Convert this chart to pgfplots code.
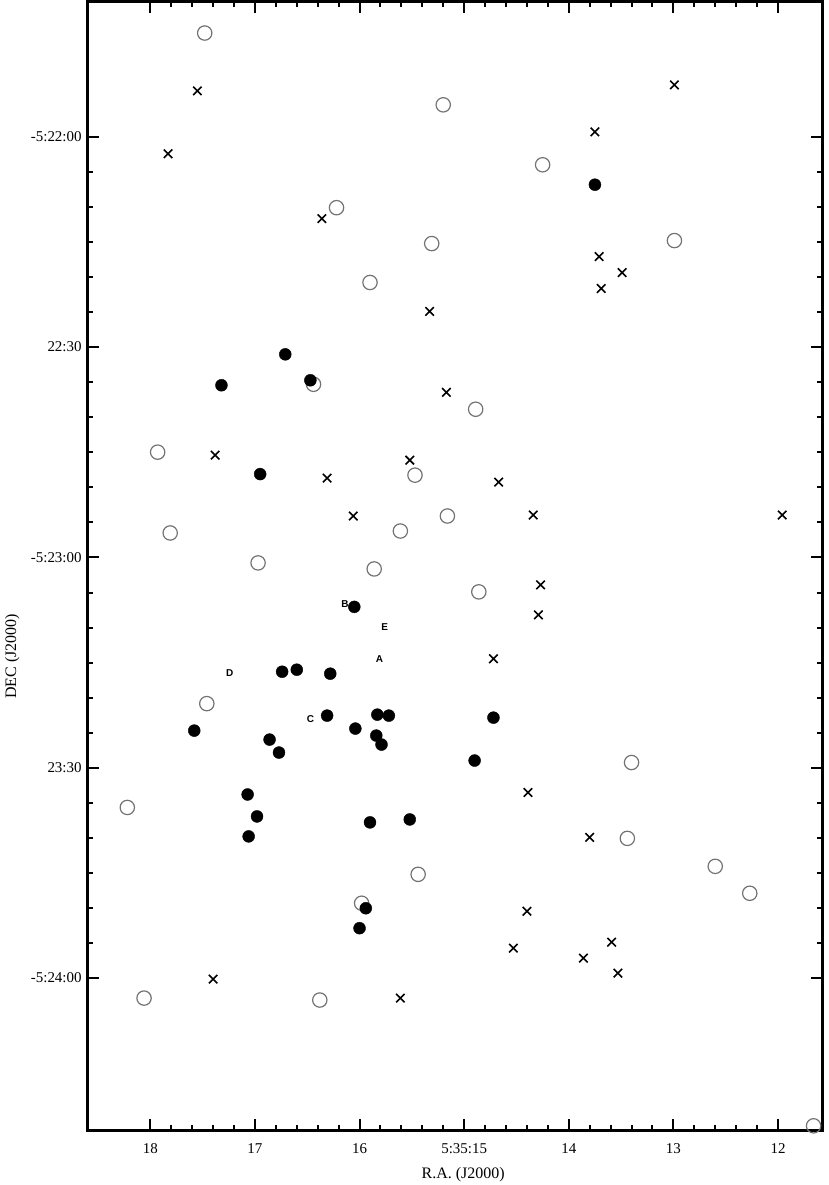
\documentclass[border=0pt]{standalone}
\usepackage{fontspec}
\setmainfont{Liberation Serif}
\setsansfont{Liberation Sans}
\usepackage{pgfplots}
\pgfplotsset{compat=1.18}

% RA seconds (5:35:xx) vs. DEC offset from -5:23:00 in arcsec
\pgfplotstableread{
ra    dec
17.48 74.80
15.20 64.56
14.25 56.01
16.22 49.89
15.31 44.77
12.99 45.20
15.90 39.22
16.44 24.70
14.89 21.14
17.93 15.02
15.47 11.74
15.16 5.91
15.61 3.77
17.81 3.49
16.97 -0.78
15.86 -1.64
14.86 -4.91
17.46 -20.85
13.40 -29.25
18.22 -35.66
13.44 -40.07
12.60 -44.06
15.44 -45.20
12.27 -47.90
15.98 -49.32
18.06 -62.85
16.38 -63.13
11.66 -81.07
}\opencircles

\pgfplotstableread{
ra    dec
17.55 66.55
12.99 67.40
13.75 60.71
17.83 57.58
16.36 48.33
13.71 42.92
13.49 40.64
13.69 38.36
15.33 35.09
15.17 23.56
17.38 14.59
15.52 13.88
16.31 11.32
14.67 10.75
16.06 5.91
14.34 6.05
11.96 6.05
14.27 -3.91
14.29 -8.19
14.72 -14.45
14.39 -33.52
13.80 -39.93
14.40 -50.46
13.59 -54.88
14.53 -55.73
13.86 -57.15
13.53 -59.29
17.40 -60.14
15.61 -62.85
}\crosses

\pgfplotstableread{
ra    dec
13.75 53.17
16.71 28.97
17.32 24.56
16.47 25.27
16.95 11.89
16.05 -7.05
16.74 -16.30
16.60 -16.01
16.28 -16.58
16.31 -22.56
15.83 -22.42
15.72 -22.56
14.72 -22.85
16.04 -24.41
17.58 -24.70
16.86 -25.98
15.84 -25.41
15.79 -26.69
16.77 -27.83
14.90 -28.97
17.07 -33.81
16.98 -36.94
17.06 -39.79
15.90 -37.79
15.52 -37.37
15.94 -50.04
16.00 -52.88
}\filled

\begin{document}
\begin{tikzpicture}
\begin{axis}[name=ax, scale only axis, width=737.2pt, height=1131.2pt,
  x dir=reverse, xmin=11.57, xmax=18.604, ymin=-81.74, ymax=79.3,
  xtick={12,13,14,15,16,17,18},
  xticklabels={12,13,14,5:35:15,16,17,18},
  minor x tick num=4,
  ytick={-60,-30,0,30,60},
  yticklabels={-5:24:00,23:30,-5:23:00,22:30,-5:22:00},
  minor y tick num=5,
  major tick length=12pt, minor tick length=6pt,
  every tick/.style={black, line width=2pt},
  axis line style={line width=3pt},
  tick label style={font=\fontsize{15}{18}\selectfont},
  xticklabel style={yshift=-10pt},
  yticklabel style={xshift=-2pt},
  label style={font=\fontsize{16}{19}\selectfont},
  xlabel={R.A. (J2000)},
  ylabel={DEC (J2000)},
  xlabel style={at={(axis description cs:0.511,0)}, anchor=center, yshift=-44pt},
  ylabel style={at={(axis description cs:0,0.42)}, anchor=center, rotate=0, yshift=75pt},
]
\addplot[only marks, mark=o, mark size=7.2pt, mark options={draw=black!55, line width=1.2pt}] table[x=ra,y=dec] {\opencircles};
\addplot[only marks, mark=*, mark size=6pt, mark options={fill=black, draw=black}] table[x=ra,y=dec] {\filled};
\addplot[only marks, mark=x, mark size=6pt, mark options={draw=black, line width=1.6pt}] table[x=ra,y=dec] {\crosses};
\begin{scope}[every node/.style={font=\sffamily\bfseries\fontsize{10}{12}\selectfont, inner sep=0pt}]
\node at (axis cs:16.14,-6.58) {B};
\node at (axis cs:15.76,-9.89) {E};
\node at (axis cs:15.81,-14.45) {A};
\node at (axis cs:16.47,-22.99) {C};
\node at (axis cs:17.24,-16.44) {D};
\end{scope}
\end{axis}
\path ([shift={(-87.3pt,-53.3pt)}]ax.south west) rectangle ([shift={(5.5pt,0.5pt)}]ax.north east);
\end{tikzpicture}
\end{document}
